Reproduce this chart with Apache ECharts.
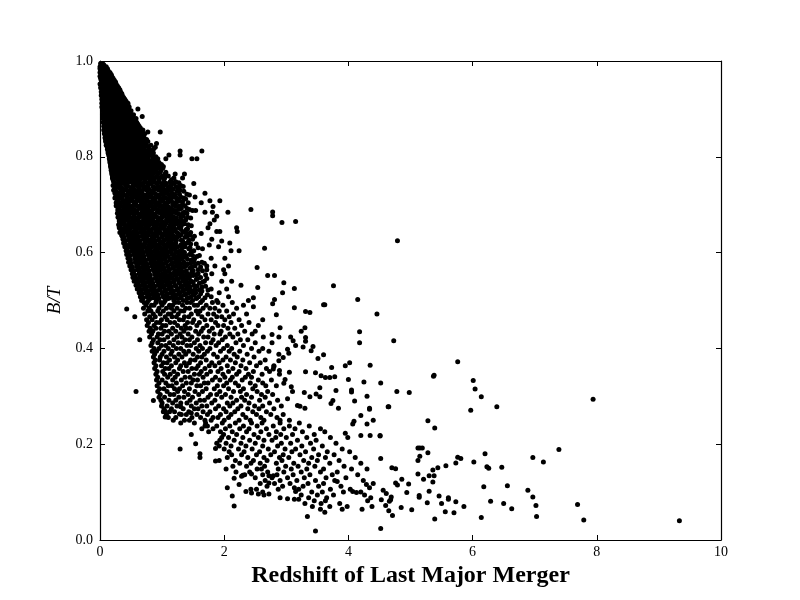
<!DOCTYPE html>
<html>
<head>
<meta charset="utf-8">
<script src="https://cdn.jsdelivr.net/npm/echarts@6/dist/echarts.min.js"></script>
<style>html,body{margin:0;padding:0;background:#fff}#c{width:800px;height:600px}</style>
</head>
<body>
<div id="c"></div>
<script>
// Axis settings / labels
const xTicks = [0, 2, 4, 6, 8, 10];
const yTicks = [0.0, 0.2, 0.4, 0.6, 0.8, 1.0];
const xTitle = 'Redshift of Last Major Merger';
const yTitle = 'B/T';

// Rows of points: [B/T, [redshifts...]]
const coreRows = [
[0.995,[0.01,0.04]],
[0.988,[0.0,0.03,0.07,0.1]],
[0.98,[0.01,0.05,0.09,0.13]],
[0.972,[0.02,0.06,0.1,0.15,0.18]],
[0.964,[0.01,0.04,0.08,0.12,0.17,0.21]],
[0.956,[0.03,0.07,0.11,0.16,0.2,0.25]],
[0.948,[0.02,0.06,0.1,0.14,0.19,0.24,0.28]],
[0.94,[0.04,0.08,0.13,0.18,0.23,0.27,0.32]],
[0.932,[0.03,0.07,0.12,0.17,0.22,0.26,0.31,0.35]],
[0.924,[0.05,0.1,0.15,0.2,0.25,0.3,0.34,0.38]],
[0.916,[0.04,0.09,0.14,0.19,0.24,0.29,0.33,0.37,0.42]],
[0.908,[0.06,0.11,0.16,0.21,0.26,0.31,0.36,0.41,0.45]],
[0.9,[0.05,0.1,0.15,0.2,0.25,0.3,0.35,0.4,0.44,0.61]],
[0.892,[0.07,0.12,0.17,0.22,0.28,0.33,0.38,0.43,0.48]],
[0.884,[0.06,0.11,0.16,0.21,0.27,0.32,0.37,0.42,0.47,0.52,0.68]],
[0.876,[0.08,0.13,0.19,0.24,0.3,0.35,0.4,0.46,0.51,0.56]],
[0.868,[0.07,0.12,0.18,0.23,0.29,0.34,0.4,0.45,0.5,0.56,0.61]],
[0.86,[0.09,0.14,0.2,0.26,0.31,0.37,0.42,0.48,0.54,0.6,0.65]],
[0.852,[0.08,0.13,0.19,0.25,0.3,0.36,0.42,0.47,0.53,0.59,0.66,0.77,0.97]],
[0.844,[0.1,0.16,0.21,0.27,0.33,0.39,0.45,0.51,0.57,0.63,0.7]],
[0.836,[0.09,0.15,0.21,0.26,0.32,0.38,0.44,0.5,0.56,0.62,0.68,0.75]],
[0.828,[0.11,0.17,0.23,0.29,0.35,0.41,0.47,0.53,0.59,0.66,0.73,0.91]],
[0.82,[0.12,0.16,0.22,0.28,0.34,0.4,0.46,0.52,0.58,0.64,0.71,0.78,0.89]],
[0.812,[0.13,0.18,0.24,0.3,0.36,0.42,0.48,0.55,0.61,0.68,0.75,0.83,1.29,1.64]],
[0.804,[0.14,0.17,0.23,0.29,0.35,0.41,0.48,0.54,0.61,0.67,0.74,0.81,1.11,1.29]],
[0.796,[0.15,0.19,0.25,0.31,0.37,0.44,0.5,0.57,0.63,0.7,0.77,0.85,0.93,1.06,1.48,1.56]],
[0.788,[0.16,0.2,0.26,0.33,0.39,0.45,0.52,0.58,0.65,0.72,0.79,0.87,0.95]],
[0.78,[0.17,0.21,0.27,0.34,0.4,0.47,0.53,0.6,0.67,0.74,0.81,0.88,0.96,1.02]],
[0.772,[0.18,0.23,0.29,0.36,0.42,0.49,0.55,0.62,0.69,0.76,0.83,0.9,0.98]],
[0.764,[0.19,0.24,0.31,0.37,0.44,0.5,0.57,0.64,0.71,0.78,0.85,0.93,1.05,1.21,1.36]],
[0.756,[0.2,0.26,0.33,0.39,0.46,0.53,0.6,0.67,0.74,0.81,0.88,0.96,1.04,1.19,1.33]]
];

const coreFill = [
[0.992,[0.02,0.06]],
[0.984,[0.0,0.04,0.08,0.12]],
[0.976,[0.0,0.04,0.08,0.12,0.16]],
[0.968,[0.0,0.03,0.07,0.11,0.15,0.19]],
[0.96,[0.02,0.05,0.09,0.14,0.18,0.23]],
[0.952,[0.0,0.04,0.08,0.13,0.17,0.22,0.26]],
[0.944,[0.01,0.05,0.1,0.15,0.2,0.25,0.3]],
[0.936,[0.02,0.06,0.1,0.15,0.2,0.24,0.29,0.33]],
[0.928,[0.02,0.06,0.11,0.16,0.21,0.26,0.31,0.36]],
[0.92,[0.03,0.07,0.12,0.17,0.22,0.27,0.32,0.36,0.4]],
[0.912,[0.03,0.07,0.12,0.17,0.22,0.27,0.32,0.37,0.41,0.45]],
[0.904,[0.03,0.08,0.13,0.18,0.23,0.28,0.33,0.38,0.43,0.47]],
[0.896,[0.04,0.09,0.14,0.19,0.24,0.3,0.35,0.41,0.46,0.5]],
[0.888,[0.04,0.09,0.14,0.19,0.25,0.3,0.35,0.4,0.45,0.5,0.54]],
[0.88,[0.05,0.1,0.16,0.21,0.27,0.32,0.38,0.43,0.49,0.54,0.58]],
[0.872,[0.05,0.1,0.15,0.21,0.26,0.32,0.37,0.43,0.48,0.53,0.59]],
[0.864,[0.06,0.11,0.17,0.23,0.28,0.34,0.4,0.45,0.51,0.57,0.63]],
[0.856,[0.06,0.11,0.17,0.23,0.28,0.34,0.39,0.45,0.51,0.56,0.63,0.69]],
[0.848,[0.07,0.13,0.18,0.24,0.3,0.36,0.42,0.48,0.54,0.6,0.66,0.72]],
[0.84,[0.08,0.13,0.18,0.24,0.3,0.36,0.41,0.47,0.53,0.59,0.65,0.71]],
[0.832,[0.09,0.14,0.2,0.26,0.32,0.38,0.44,0.5,0.56,0.62,0.69,0.77]],
[0.824,[0.1,0.14,0.2,0.26,0.32,0.38,0.44,0.5,0.56,0.62,0.69,0.75,0.82]],
[0.816,[0.12,0.15,0.21,0.27,0.33,0.39,0.45,0.51,0.58,0.64,0.71,0.79,0.86]],
[0.808,[0.13,0.2,0.26,0.32,0.38,0.45,0.51,0.58,0.64,0.71,0.78,0.86]],
[0.8,[0.15,0.2,0.26,0.32,0.38,0.44,0.51,0.57,0.64,0.71,0.78,0.86,0.9]],
[0.792,[0.16,0.23,0.29,0.36,0.42,0.48,0.55,0.62,0.68,0.75,0.83,0.91]],
[0.784,[0.17,0.23,0.3,0.37,0.43,0.5,0.56,0.63,0.7,0.77,0.84,0.92,0.99]],
[0.776,[0.18,0.25,0.32,0.38,0.45,0.51,0.58,0.65,0.72,0.8,0.86,0.94,1.01]],
[0.768,[0.19,0.27,0.34,0.4,0.47,0.53,0.6,0.67,0.74,0.81,0.89,0.97,1.06]],
[0.76,[0.2,0.28,0.36,0.42,0.49,0.56,0.63,0.7,0.77,0.84,0.92,1.0,1.1]],
[0.752,[0.21,0.29,0.37,0.44,0.51,0.58,0.65,0.72,0.8,0.87,0.95,1.03,1.15]]
];

const midRows = [
[0.748,[0.22,0.31,0.47,0.55,0.72,0.86,0.95,1.13,1.22]],
[0.744,[0.25,0.38,0.44,0.61,0.69,0.81,1.0,1.07,1.19,1.51]],
[0.74,[0.21,0.29,0.42,0.58,0.66,0.77,0.93,1.04,1.14,1.3]],
[0.736,[0.27,0.35,0.5,0.63,0.74,0.88,0.97,1.1,1.26]],
[0.732,[0.23,0.33,0.41,0.54,0.7,0.79,0.91,1.02,1.18]],
[0.728,[0.26,0.37,0.48,0.6,0.67,0.84,0.99,1.08,1.24,1.35]],
[0.724,[0.24,0.3,0.45,0.53,0.65,0.78,0.87,1.05,1.16,1.69]],
[0.72,[0.28,0.39,0.51,0.62,0.75,0.82,0.96,1.12,1.21,1.44]],
[0.716,[0.25,0.34,0.43,0.57,0.71,0.8,0.93,1.03,1.19,1.3,1.53]],
[0.712,[0.27,0.36,0.49,0.6,0.68,0.85,0.98,1.09,1.25,1.38]],
[0.708,[0.29,0.41,0.52,0.64,0.76,0.89,1.01,1.15,1.28,1.77,1.93]],
[0.704,[0.26,0.33,0.46,0.58,0.72,0.83,0.94,1.07,1.2,1.42,1.63]],
[0.7,[0.3,0.4,0.55,0.66,0.79,0.91,1.04,1.17,1.33]],
[0.696,[0.28,0.37,0.48,0.62,0.7,0.86,0.97,1.1,1.25,1.82]],
[0.692,[0.31,0.43,0.52,0.65,0.77,0.88,1.02,1.14,1.31,1.4]],
[0.688,[0.29,0.36,0.5,0.6,0.74,0.83,0.99,1.12,1.22,1.49,1.54]],
[0.684,[0.32,0.42,0.57,0.68,0.8,0.92,1.05,1.19,1.36,1.69,1.81,2.06]],
[0.68,[0.3,0.39,0.47,0.63,0.73,0.87,1.0,1.09,1.27]],
[0.676,[0.33,0.45,0.55,0.67,0.79,0.9,1.03,1.16,1.34,1.88]],
[0.672,[0.31,0.4,0.53,0.61,0.75,0.85,0.98,1.13,1.23,1.46]],
[0.668,[0.34,0.44,0.58,0.7,0.81,0.94,1.07,1.2,1.38,1.84]],
[0.664,[0.32,0.38,0.51,0.64,0.76,0.89,1.01,1.15,1.29]],
[0.66,[0.35,0.47,0.56,0.69,0.82,0.93,1.06,1.24,1.36,1.77]],
[0.656,[0.33,0.43,0.54,0.66,0.78,0.9,1.04,1.17,1.31,1.47]],
[0.652,[0.31,0.41,0.5,0.62,0.74,0.86,1.0,1.11,1.27,1.74,2.2]],
[0.648,[0.36,0.46,0.59,0.71,0.83,0.96,1.09,1.21,1.39]],
[0.644,[0.34,0.44,0.55,0.68,0.8,0.92,1.05,1.18,1.33,1.88,1.93,2.21]],
[0.64,[0.37,0.49,0.6,0.72,0.85,0.98,1.12,1.26,1.41,1.63]],
[0.636,[0.35,0.45,0.57,0.69,0.77,0.91,1.03,1.16,1.3,1.45]],
[0.632,[0.39,0.51,0.62,0.74,0.87,1.0,1.14,1.24,1.37]],
[0.628,[0.37,0.47,0.58,0.7,0.83,0.95,1.08,1.2,1.49,1.8]],
[0.624,[0.4,0.53,0.64,0.76,0.89,1.02,1.15,1.33,1.96]],
[0.62,[0.38,0.5,0.61,0.73,0.85,0.97,1.1,1.22,1.4,2.09]],
[0.616,[0.42,0.55,0.66,0.79,0.92,1.05,1.18,1.3,1.76]],
[0.612,[0.4,0.48,0.6,0.72,0.84,0.96,1.08,1.25,1.37,1.91]],
[0.608,[0.44,0.56,0.68,0.8,0.93,1.06,1.19,1.43,1.65]],
[0.604,[0.42,0.52,0.63,0.75,0.88,1.01,1.13,1.29,1.51,2.11,2.24]],
[0.6,[0.46,0.58,0.7,0.83,0.95,1.09,1.22,1.36]],
[0.596,[0.43,0.54,0.65,0.77,0.9,1.03,1.16,1.31,1.44]],
[0.592,[0.47,0.59,0.71,0.84,0.97,1.1,1.25,1.38,1.56]],
[0.588,[0.45,0.56,0.67,0.8,0.92,1.05,1.19,1.33,1.79,2.01]],
[0.584,[0.49,0.61,0.73,0.86,0.99,1.12,1.27,1.47]],
[0.58,[0.46,0.57,0.69,0.82,0.94,1.07,1.21,1.35,1.51,1.64]],
[0.576,[0.5,0.62,0.75,0.88,1.01,1.15,1.29,1.41]],
[0.572,[0.48,0.59,0.71,0.84,0.96,1.09,1.23,1.38,1.53,1.72,1.85,2.07]],
[0.568,[0.52,0.64,0.77,0.9,1.03,1.17,1.31,1.45]],
[0.564,[0.5,0.6,0.73,0.86,0.98,1.12,1.26,1.58,1.72,1.99]],
[0.56,[0.54,0.66,0.79,0.92,1.06,1.2,1.34,1.48]],
[0.556,[0.52,0.63,0.75,0.88,1.01,1.14,1.27,1.41,1.58,1.8,2.01]],
[0.552,[0.56,0.68,0.81,0.94,1.08,1.23,1.37,1.5]],
[0.548,[0.53,0.65,0.77,0.9,1.03,1.16,1.3,1.44,1.62]],
[0.544,[0.58,0.7,0.83,0.96,1.1,1.25,1.39,1.55]],
[0.54,[0.55,0.67,0.79,0.92,1.05,1.19,1.33,1.47,1.68,1.96,2.12]],
[0.536,[0.6,0.72,0.85,0.99,1.13,1.28,1.43,1.6]],
[0.532,[0.58,0.69,0.81,0.94,1.07,1.21,1.36,1.51,2.27]],
[0.528,[0.62,0.74,0.87,1.01,1.15,1.3,1.45,1.64]],
[0.524,[0.6,0.71,0.84,0.97,1.11,1.26,1.39,1.53,1.79,2.04]],
[0.52,[0.64,0.77,0.9,1.04,1.18,1.33,1.48,1.64]],
[0.516,[0.63,0.73,0.86,1.0,1.14,1.29,1.43,1.54,1.92]],
[0.512,[0.66,0.79,0.93,1.07,1.22,1.36,1.51,1.73]],
[0.508,[0.65,0.76,0.89,1.02,1.17,1.31,1.47,1.59,1.79,2.07]],
[0.504,[0.68,0.81,0.95,1.1,1.25,1.4,1.55]],
[0.5,[0.67,0.78,0.91,1.05,1.19,1.34,1.49,1.65,1.88,2.39]]
];

const midFill = [
[0.746,[0.23,0.34,0.41,0.52,0.63,0.76,0.83,0.9,1.04,1.16,1.27]],
[0.738,[0.25,0.32,0.45,0.53,0.62,0.71,0.85,0.99,1.12,1.22,1.34]],
[0.73,[0.22,0.35,0.43,0.57,0.64,0.75,0.86,0.95,1.05,1.13,1.29]],
[0.722,[0.26,0.36,0.47,0.56,0.69,0.77,0.9,1.0,1.1,1.18,1.28,1.4]],
[0.714,[0.24,0.31,0.45,0.51,0.65,0.74,0.87,0.96,1.06,1.14,1.23,1.35]],
[0.706,[0.28,0.37,0.44,0.56,0.69,0.8,0.87,0.97,1.11,1.24,1.33]],
[0.698,[0.26,0.33,0.45,0.52,0.59,0.74,0.82,0.9,1.0,1.07,1.21,1.29,1.37]],
[0.69,[0.29,0.39,0.46,0.55,0.69,0.76,0.85,0.93,1.08,1.17,1.27,1.44]],
[0.682,[0.28,0.37,0.44,0.52,0.6,0.69,0.76,0.84,0.97,1.05,1.14,1.23,1.33,1.4]],
[0.674,[0.29,0.35,0.48,0.56,0.63,0.7,0.82,0.92,1.0,1.1,1.19,1.3,1.41]],
[0.666,[0.31,0.4,0.47,0.54,0.62,0.71,0.78,0.86,0.99,1.1,1.18,1.26,1.32]],
[0.658,[0.3,0.4,0.5,0.58,0.64,0.72,0.79,0.87,0.96,1.02,1.13,1.2,1.3,1.42]],
[0.65,[0.33,0.38,0.48,0.57,0.65,0.7,0.78,0.89,0.94,1.03,1.14,1.2,1.3,1.41]],
[0.642,[0.32,0.42,0.51,0.59,0.66,0.75,0.82,0.9,0.97,1.08,1.15,1.24,1.36,1.46]],
[0.634,[0.36,0.47,0.54,0.61,0.68,0.76,0.84,0.92,1.0,1.08,1.19,1.27,1.4,1.52]],
[0.626,[0.39,0.45,0.55,0.62,0.72,0.79,0.86,0.94,1.04,1.12,1.23,1.31,1.43]],
[0.618,[0.4,0.48,0.58,0.64,0.71,0.81,0.88,1.02,1.13,1.2,1.34,1.46,1.55]],
[0.61,[0.43,0.51,0.58,0.65,0.75,0.82,0.9,0.98,1.04,1.14,1.22,1.32,1.45,1.58]],
[0.602,[0.45,0.54,0.6,0.67,0.76,0.82,0.9,0.99,1.06,1.15,1.25,1.34,1.47]],
[0.594,[0.48,0.56,0.62,0.69,0.79,0.86,0.93,1.0,1.08,1.19,1.27,1.37,1.49,1.6]],
[0.586,[0.48,0.57,0.64,0.71,0.78,0.88,0.96,1.03,1.14,1.22,1.3,1.41,1.52]],
[0.578,[0.5,0.59,0.66,0.74,0.82,0.9,0.99,1.06,1.17,1.25,1.34,1.46,1.58,1.68]],
[0.57,[0.52,0.61,0.69,0.77,0.85,0.93,1.01,1.1,1.19,1.27,1.35,1.48,1.62]],
[0.562,[0.54,0.63,0.7,0.79,0.87,0.95,1.04,1.1,1.21,1.29,1.39,1.5,1.65]],
[0.554,[0.56,0.64,0.72,0.8,0.89,0.97,1.05,1.13,1.21,1.31,1.43,1.54,1.7]],
[0.546,[0.6,0.67,0.74,0.81,0.89,0.99,1.07,1.14,1.23,1.34,1.42,1.57,1.72]],
[0.538,[0.62,0.69,0.77,0.84,0.94,1.01,1.09,1.18,1.27,1.38,1.5,1.65]],
[0.53,[0.64,0.72,0.79,0.88,0.96,1.03,1.12,1.22,1.32,1.41,1.56,1.7]],
[0.522,[0.66,0.75,0.82,0.88,0.95,1.06,1.15,1.24,1.35,1.45,1.6,1.74]],
[0.514,[0.68,0.77,0.84,0.91,1.0,1.09,1.18,1.27,1.39,1.5,1.62]],
[0.506,[0.7,0.79,0.86,0.94,1.04,1.13,1.2,1.3,1.43,1.56,1.69]]
];

const bandRows = [
[0.496,[0.71,0.76,0.9,0.98,1.03,1.21,1.27,1.4,1.46,1.62,1.81,1.9,2.13]],
[0.49,[0.74,0.83,0.87,1.0,1.12,1.17,1.33,1.52,1.57,1.71,1.98,2.31]],
[0.484,[0.7,0.79,0.95,1.07,1.15,1.24,1.38,1.44,1.66,1.77,1.85,2.2]],
[0.478,[0.77,0.82,0.93,1.02,1.19,1.3,1.35,1.55,1.61,1.92,2.04]],
[0.472,[0.72,0.86,0.97,1.1,1.14,1.26,1.47,1.58,1.74,1.83,2.15,2.36]],
[0.466,[0.56,0.8,0.89,1.05,1.16,1.23,1.36,1.43,1.64,1.88,1.96,2.08]],
[0.46,[0.75,0.84,0.99,1.08,1.28,1.34,1.51,1.69,1.79,2.01,2.24,2.62]],
[0.454,[0.78,0.91,0.96,1.13,1.2,1.41,1.49,1.6,1.86,2.11,2.4]],
[0.448,[0.76,0.87,1.01,1.06,1.25,1.37,1.56,1.72,1.9,1.99,2.28,2.55]],
[0.442,[0.81,0.9,0.98,1.17,1.31,1.39,1.45,1.66,1.81,2.06,2.17]],
[0.436,[0.79,0.85,1.04,1.11,1.22,1.35,1.54,1.63,1.76,1.95,2.33,2.5]],
[0.43,[0.83,0.94,1.0,1.15,1.29,1.42,1.59,1.84,1.93,2.09,2.22,2.45]],
[0.424,[0.8,0.92,1.09,1.24,1.32,1.48,1.67,1.74,2.02,2.14,2.63]],
[0.418,[0.64,0.86,0.97,1.03,1.19,1.37,1.44,1.57,1.82,1.97,2.26,2.38]],
[0.412,[0.84,0.93,1.12,1.26,1.33,1.52,1.7,1.79,1.91,2.19,2.5,2.77]],
[0.406,[0.82,0.99,1.06,1.18,1.4,1.46,1.61,1.87,2.05,2.31]],
[0.4,[0.87,0.95,1.1,1.23,1.3,1.55,1.65,1.77,1.99,2.12,2.44,2.62]],
[0.394,[0.84,0.91,1.03,1.16,1.35,1.43,1.59,1.73,1.94,2.08,2.25,2.56,2.72]],
[0.388,[0.88,1.0,1.14,1.27,1.38,1.5,1.68,1.83,2.16,2.37,2.88]],
[0.382,[0.86,0.97,1.07,1.2,1.32,1.57,1.64,1.89,2.03,2.21,2.48]],
[0.376,[0.89,0.96,1.12,1.25,1.46,1.53,1.71,1.98,2.1,2.3,2.66]],
[0.37,[0.87,1.02,1.08,1.22,1.36,1.44,1.62,1.8,1.92,2.18,2.41,2.58]],
[0.364,[0.9,0.99,1.15,1.3,1.39,1.58,1.76,1.85,2.05,2.27,2.52,2.8]],
[0.358,[0.88,1.05,1.11,1.28,1.48,1.55,1.69,1.95,2.14,2.35,2.68]],
[0.352,[0.92,1.01,1.19,1.34,1.42,1.63,1.78,1.9,2.07,2.24,2.47,2.73]],
[0.346,[0.9,1.04,1.13,1.25,1.52,1.6,1.72,1.98,2.2,2.39,2.61,2.89]],
[0.34,[0.93,1.09,1.21,1.37,1.45,1.66,1.86,2.01,2.13,2.34,2.44]],
[0.334,[0.91,1.0,1.17,1.31,1.5,1.57,1.81,1.93,2.1,2.29,2.55,2.76]],
[0.328,[0.95,1.06,1.23,1.39,1.47,1.68,1.74,2.04,2.18,2.42,2.62]],
[0.322,[0.92,1.1,1.16,1.33,1.56,1.62,1.89,1.99,2.23,2.5,2.67,2.84]],
[0.316,[0.96,1.03,1.2,1.28,1.44,1.71,1.84,2.07,2.31,2.46]],
[0.31,[0.58,0.93,1.08,1.25,1.36,1.53,1.65,1.93,2.15,2.26,2.53,2.7]],
[0.304,[0.97,1.13,1.19,1.42,1.59,1.78,1.88,2.02,2.36,2.6,2.78]],
[0.298,[0.95,1.04,1.27,1.35,1.49,1.74,1.96,2.11,2.28,2.44,2.66]],
[0.292,[0.98,1.11,1.22,1.45,1.61,1.68,1.85,2.2,2.33,2.57,2.86]],
[0.286,[1.0,1.17,1.3,1.4,1.55,1.8,2.05,2.14,2.4,2.73]],
[0.28,[0.99,1.08,1.24,1.47,1.64,1.72,1.91,2.09,2.27,2.49,2.62,2.92]],
[0.274,[1.03,1.15,1.34,1.52,1.58,1.86,1.99,2.22,2.38,2.56,2.8]],
[0.268,[1.02,1.12,1.2,1.43,1.66,1.77,2.03,2.17,2.46,2.68]],
[0.262,[1.07,1.31,1.39,1.56,1.73,1.94,2.11,2.3,2.52,2.75,2.95]],
[0.256,[1.1,1.22,1.48,1.62,1.82,1.9,2.07,2.35,2.59,2.85]],
[0.25,[1.18,1.36,1.44,1.69,1.79,2.0,2.24,2.42,2.64,2.9,3.05]]
];

const lowRows = [
[0.244,[1.3,1.52,1.7,1.97,2.18,2.44,2.61,2.9,3.21]],
[0.238,[1.69,1.73,1.88,2.09,2.31,2.53,2.79,3.05,3.37]],
[0.232,[1.64,1.82,2.02,2.25,2.4,2.68,2.96,3.14,3.55]],
[0.226,[1.75,1.94,2.13,2.36,2.59,2.84,3.26,3.62]],
[0.22,[1.47,1.99,2.2,2.48,2.72,2.91,3.1,3.45]],
[0.214,[1.96,2.07,2.3,2.55,2.83,3.0,3.33,3.71]],
[0.208,[1.93,2.16,2.41,2.64,2.77,3.18,3.48]],
[0.202,[1.88,2.03,2.27,2.5,2.92,3.07,3.39,3.8]],
[0.196,[1.92,2.11,2.35,2.62,2.86,3.25,3.58]],
[0.19,[2.0,2.23,2.45,2.71,2.98,3.15,3.44,3.9]],
[0.184,[2.08,2.32,2.57,2.81,3.09,3.31,3.66,4.02]],
[0.178,[2.12,2.28,2.52,2.75,2.95,3.22,3.52,3.77]],
[0.172,[2.05,2.38,2.64,2.89,3.04,3.41,3.63,4.11]],
[0.166,[2.18,2.47,2.69,2.93,3.28,3.5,3.85]],
[0.16,[2.25,2.43,2.58,2.84,3.12,3.36,3.7,4.2]],
[0.154,[2.14,2.36,2.65,2.99,3.19,3.46,3.93]],
[0.148,[2.53,2.6,2.87,3.08,3.33,3.6,4.05,4.3]],
[0.142,[2.19,2.41,2.7,2.96,3.24,3.55,3.82]],
[0.136,[2.33,2.62,2.85,3.11,3.38,3.74,4.15]],
[0.13,[2.5,2.77,3.02,3.29,3.64,3.96]],
[0.124,[2.66,2.9,3.17,3.47,3.78,4.24]],
[0.118,[2.58,2.81,3.06,3.35,3.6,4.4]],
[0.112,[2.69,2.94,3.27,3.52,3.88]],
[0.106,[2.52,2.87,3.2,3.71,4.03]],
[0.1,[2.62,3.41,3.58,3.92]],
[0.094,[3.24,3.5,3.76,4.26]],
[0.088,[2.9,3.36,3.65,4.36]],
[0.082,[3.45,3.63,4.31]],
[0.076,[3.3,3.56,3.86]],
[0.07,[3.42,3.7,3.98,4.38]],
[0.064,[3.55,3.9]],
[0.058,[3.62]]
];

// Individually read sparse points: [redshift, B/T]
const sparsePoints = [
[0.43,0.482],[0.86,0.291],
[2.43,0.69],[2.78,0.685],[2.78,0.677],[2.93,0.663],[3.15,0.665],[4.79,0.625],[2.65,0.609],
[2.53,0.569],[2.70,0.552],[2.81,0.552],[2.96,0.537],[2.54,0.527],[2.94,0.516],[3.13,0.525],
[3.76,0.531],[2.47,0.506],[2.81,0.502],[2.78,0.493],[2.47,0.487],[2.84,0.47],[3.13,0.485],
[3.31,0.477],[3.38,0.475],[3.60,0.491],[3.62,0.491],[4.15,0.502],[4.46,0.472],[4.18,0.435],
[4.18,0.412],[3.95,0.364],[4.02,0.37],[4.00,0.335],[4.05,0.313],[4.05,0.309],[3.80,0.312],
[3.60,0.387],[3.73,0.36],[3.78,0.341],[3.70,0.339],[3.63,0.339],[3.56,0.343],[3.47,0.349],
[3.31,0.351],[3.51,0.379],[3.54,0.318],[3.54,0.299],[3.48,0.305],[3.38,0.299],[3.29,0.308],
[3.75,0.291],[3.72,0.285],[3.84,0.275],[4.34,0.275],[3.43,0.404],[3.40,0.395],[3.31,0.423],
[3.31,0.415],[3.27,0.403],[3.30,0.443],[3.24,0.436],[3.15,0.406],[3.07,0.424],[3.11,0.416],
[3.02,0.398],[3.04,0.39],[2.90,0.443],[2.88,0.424],[2.77,0.429],[2.95,0.381],[2.88,0.374],
[2.80,0.362],[2.79,0.357],[2.89,0.354],[2.98,0.335],[2.96,0.327],[3.02,0.295],[3.18,0.281],
[3.22,0.279],[3.30,0.275],[3.05,0.35],[3.08,0.32],[3.10,0.31],[4.35,0.365],[4.25,0.33],
[4.30,0.30],[4.10,0.29],[4.40,0.25],[4.20,0.26],
[4.73,0.416],[5.76,0.372],[5.37,0.342],[5.38,0.344],[4.52,0.328],[4.78,0.31],[4.98,0.308],
[6.01,0.333],[6.04,0.315],[6.14,0.299],[5.97,0.271],[6.39,0.278],[7.94,0.294],[4.65,0.278],
[5.28,0.249],[5.39,0.234],[4.51,0.217],[5.12,0.192],[5.15,0.192],[5.19,0.192],[5.28,0.182],
[5.15,0.175],[5.12,0.166],[4.52,0.17],[4.70,0.151],[4.76,0.149],[5.36,0.146],[5.44,0.151],
[5.57,0.155],[5.73,0.161],[5.76,0.173],[5.81,0.17],[6.02,0.163],[6.20,0.18],[6.23,0.153],
[6.26,0.15],[6.47,0.152],[6.97,0.172],[7.14,0.163],[7.39,0.189],[5.12,0.138],[5.30,0.134],
[5.38,0.134],[5.36,0.121],[5.21,0.127],[4.86,0.127],[4.76,0.119],[4.79,0.115],[4.97,0.117],
[4.56,0.104],[4.61,0.097],[4.69,0.09],[4.66,0.081],[4.68,0.084],[4.53,0.084],[4.60,0.072],
[4.65,0.061],[4.71,0.051],[4.94,0.099],[5.14,0.093],[5.14,0.089],[5.30,0.102],[5.46,0.092],
[5.61,0.088],[5.61,0.085],[5.73,0.08],[5.86,0.07],[5.50,0.076],[5.27,0.078],[5.56,0.059],
[5.70,0.057],[5.02,0.063],[4.85,0.068],[5.39,0.044],[4.52,0.024],[6.18,0.111],[6.56,0.113],
[6.29,0.081],[6.50,0.076],[6.63,0.065],[6.14,0.047],[6.89,0.104],[6.97,0.09],[7.02,0.072],
[7.03,0.049],[7.69,0.074],[7.79,0.042],[9.33,0.04],
[1.05,0.269],[1.05,0.257],[1.28,0.263],[1.47,0.265],[1.30,0.278],[1.54,0.201],[1.29,0.19],
[1.61,0.18],[1.61,0.172],[1.86,0.191],[1.86,0.165],[1.92,0.166],[2.03,0.148],[2.05,0.109],
[2.13,0.092],[2.16,0.071],[2.16,0.129],[2.24,0.116],[2.28,0.133],[2.30,0.135],[2.35,0.101],
[2.43,0.106],[2.44,0.098],[2.55,0.096],[2.64,0.094],[2.72,0.096],[2.44,0.138],[2.72,0.134],
[2.79,0.134],[2.72,0.119],[3.02,0.086],[3.13,0.085],[3.20,0.085],[3.13,0.109],[3.15,0.101],
[3.34,0.049],[3.47,0.019],[3.82,0.122],[4.07,0.101],[4.13,0.099],[4.20,0.10],[4.22,0.064],
[4.29,0.116],[4.34,0.109],[3.95,0.223],[3.99,0.214],[4.09,0.248],[4.07,0.242],[4.20,0.218],
[4.30,0.242],[4.35,0.218],[4.51,0.218],[4.64,0.278],[4.34,0.273]
];

const points = [];
[coreRows, coreFill, midRows, midFill, bandRows, lowRows].forEach(rows => {
  rows.forEach(([y, xs]) => xs.forEach(x => points.push([x, y])));
});
sparsePoints.forEach(p => points.push(p));

const serif = 'Liberation Serif';
const chart = echarts.init(document.getElementById('c'), null, {renderer: 'canvas'});
const baseX = {
  type: 'value', min: 0, max: 10, interval: 2,
  axisLine: {show: true, onZero: false, lineStyle: {color: '#000', width: 1.2}},
  axisTick: {show: true, inside: true, length: 5, lineStyle: {color: '#000'}},
  splitLine: {show: false}
};
const baseY = {
  type: 'value', min: 0, max: 1, interval: 0.2,
  axisLine: {show: true, onZero: false, lineStyle: {color: '#000', width: 1.2}},
  axisTick: {show: true, inside: true, length: 5, lineStyle: {color: '#000'}},
  splitLine: {show: false}
};
chart.setOption({
  animation: false,
  backgroundColor: '#fff',
  grid: {left: 100, right: 79, top: 61, bottom: 60, containLabel: false},
  xAxis: [
    Object.assign({}, baseX, {
      position: 'bottom',
      axisLabel: {show: true, margin: 5, color: '#000', fontFamily: serif, fontSize: 14,
        formatter: v => xTicks.includes(v) ? String(v) : ''},
      name: xTitle, nameLocation: 'middle', nameGap: 19,
      nameTextStyle: {fontFamily: serif, fontSize: 24, fontWeight: 'bold', color: '#000'}
    }),
    Object.assign({}, baseX, {position: 'top', axisLabel: {show: false}})
  ],
  yAxis: [
    Object.assign({}, baseY, {
      position: 'left',
      axisLabel: {show: true, margin: 7, color: '#000', fontFamily: serif, fontSize: 14,
        formatter: v => yTicks.some(t => Math.abs(t - v) < 1e-9) ? v.toFixed(1) : ''},
      name: yTitle, nameLocation: 'middle', nameGap: 35,
      nameTextStyle: {fontFamily: serif, fontSize: 19, fontStyle: 'italic', color: '#000'}
    }),
    Object.assign({}, baseY, {position: 'right', axisLabel: {show: false}})
  ],
  series: [{
    type: 'scatter', xAxisIndex: 0, yAxisIndex: 0,
    symbol: 'circle', symbolSize: 5,
    itemStyle: {color: '#000', opacity: 1},
    data: points
  }]
});
</script>
</body>
</html>
